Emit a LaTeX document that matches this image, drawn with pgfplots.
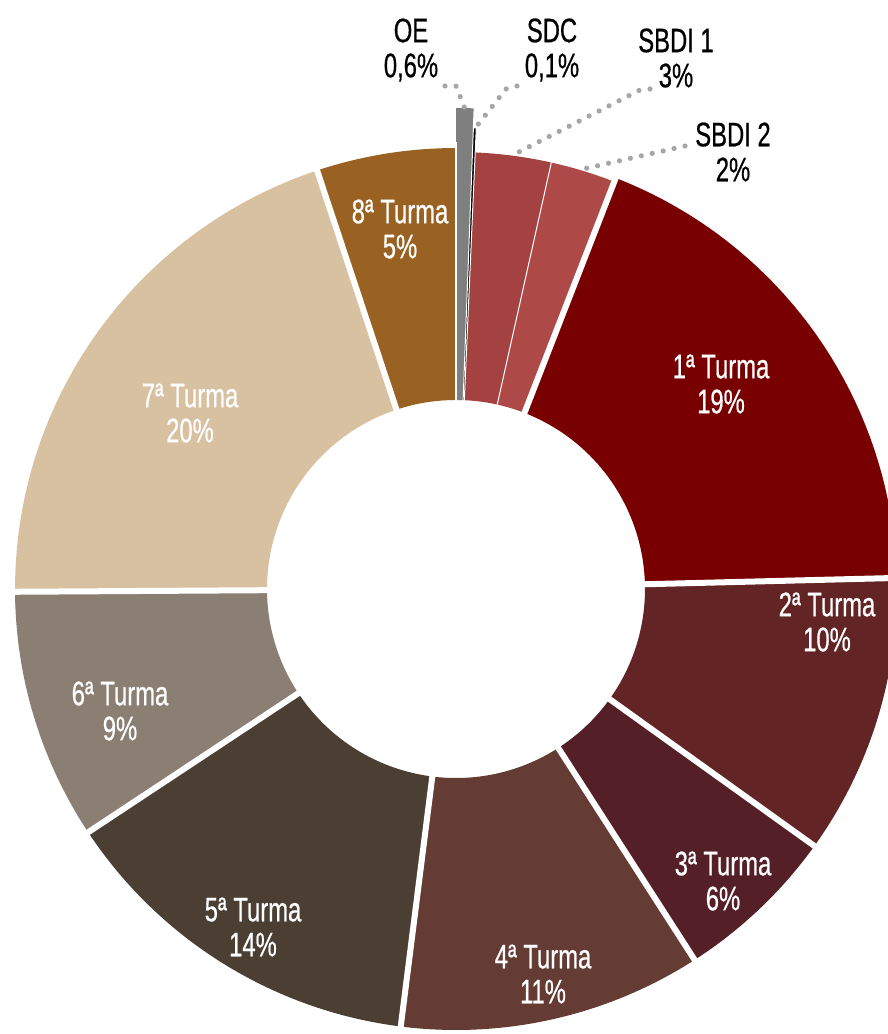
\documentclass[border=0pt]{standalone}
\usepackage{fontspec}
\setmainfont{Liberation Sans}[FakeStretch=0.70, FakeBold=0.6]
\usepackage{pgfplots}
\usepackage{pgfplotstable}
\pgfplotsset{compat=1.18}

\definecolor{slice0}{HTML}{7F7F7F}
\definecolor{slice1}{HTML}{000000}
\definecolor{slice2}{HTML}{A34240}
\definecolor{slice3}{HTML}{AD4A47}
\definecolor{slice4}{HTML}{780000}
\definecolor{slice5}{HTML}{622424}
\definecolor{slice6}{HTML}{541F27}
\definecolor{slice7}{HTML}{643C34}
\definecolor{slice8}{HTML}{4B3F33}
\definecolor{slice9}{HTML}{8B7F73}
\definecolor{slice10}{HTML}{D8C1A0}
\definecolor{slice11}{HTML}{9A6222}
\definecolor{leader}{HTML}{A6A6A6}

% slices clockwise from the top: OE, SDC, SBDI 1, SBDI 2, 1a ... 8a Turma
\pgfplotstableread{
idx value R gap
0 0.6 481 0.5
1 0.1 461 0.5
2 2.8 437 0.5
3 2.4 437 3
4 18.7 441 3
5 10.3 441 3
6 6.0 441 3
7 11.1 441 3
8 13.7 441 3
9 9.2 441 3
10 20.0 441 3
11 5.1 441 1.2
}\slices

\def\cum{0}
\pgfplotsforeachungrouped \i in {0,1,...,11}{%
  \pgfplotstablegetelem{\i}{value}\of\slices
  \pgfmathsetmacro\tmpa{3.6*\cum}%
  \pgfmathsetmacro\cum{\cum+\pgfplotsretval}%
  \pgfmathsetmacro\tmpb{3.6*\cum}%
  \expandafter\global\expandafter\let\csname sa\i\endcsname\tmpa
  \expandafter\global\expandafter\let\csname sb\i\endcsname\tmpb
  \pgfplotstablegetelem{\i}{R}\of\slices
  \expandafter\global\expandafter\let\csname sR\i\endcsname\pgfplotsretval
  \pgfplotstablegetelem{\i}{gap}\of\slices
  \expandafter\global\expandafter\let\csname sg\i\endcsname\pgfplotsretval
}

\newcommand\cx{456}
\newcommand\cy{589}
\newcommand\rin{189}
\newcommand\Ang[1]{(x<50 ? \csname sa#1\endcsname+(\csname sb#1\endcsname-\csname sa#1\endcsname)*x/40 : \csname sb#1\endcsname-(\csname sb#1\endcsname-\csname sa#1\endcsname)*(x-100)/40)}
\newcommand\Rad[1]{(x<50 ? \csname sR#1\endcsname : \rin)}
\newcommand\lbl{\fontsize{17}{17.5}\selectfont}

\begin{document}
\begin{tikzpicture}
\begin{axis}[
  scale only axis, width=444pt, height=517pt,
  xmin=0, xmax=888, ymin=0, ymax=1034, y dir=reverse,
  hide axis, clip=true,
]
\pgfplotsinvokeforeach{0,...,11}{%
  \addplot[fill=slice#1, draw=none, samples at={0,1,...,40,100,101,...,140}]
   ({\cx+\Rad{#1}*sin(\Ang{#1})},{\cy-\Rad{#1}*cos(\Ang{#1})});
}
\pgfplotsinvokeforeach{0,...,11}{%
  \addplot[draw=white, line width=\csname sg#1\endcsname pt, samples at={0,1}]
   ({\cx+(175+x*(\csname sR#1\endcsname+6-175))*sin(\csname sb#1\endcsname)},
    {\cy-(175+x*(\csname sR#1\endcsname+6-175))*cos(\csname sb#1\endcsname)});
}
% leader lines
\addplot[leader, line width=2.6pt, line cap=round, dash pattern=on 0pt off 5.6pt]
  coordinates {(445,86) (456,86) (465,109)};
\addplot[leader, line width=2.6pt, line cap=round, dash pattern=on 0pt off 5.6pt]
  coordinates {(517,86) (506,89) (476,127)};
\addplot[leader, line width=2.6pt, line cap=round, dash pattern=on 0pt off 5.6pt]
  coordinates {(650,89) (640,90) (513,155)};
\addplot[leader, line width=2.6pt, line cap=round, dash pattern=on 0pt off 5.6pt]
  coordinates {(685,146) (583,169)};
% outer labels
\node[font=\lbl, align=center] at (axis cs:411,50) {OE\\0,6\%};
\node[font=\lbl, align=center] at (axis cs:552,50) {SDC\\0,1\%};
\node[font=\lbl, align=center] at (axis cs:676,58) {SBDI 1\\3\%};
\node[font=\lbl, align=center] at (axis cs:733,152) {SBDI 2\\2\%};
% inner labels
\node[font=\lbl, align=center, text=white] at (axis cs:721,384) {1ª Turma\\19\%};
\node[font=\lbl, align=center, text=white] at (axis cs:827,622) {2ª Turma\\10\%};
\node[font=\lbl, align=center, text=white] at (axis cs:723,881) {3ª Turma\\6\%};
\node[font=\lbl, align=center, text=white] at (axis cs:543,974) {4ª Turma\\11\%};
\node[font=\lbl, align=center, text=white] at (axis cs:253,927) {5ª Turma\\14\%};
\node[font=\lbl, align=center, text=white] at (axis cs:120,711) {6ª Turma\\9\%};
\node[font=\lbl, align=center, text=white] at (axis cs:190,413) {7ª Turma\\20\%};
\node[font=\lbl, align=center, text=white] at (axis cs:400,229) {8ª Turma\\5\%};
\end{axis}
\pgfresetboundingbox
\path[use as bounding box] (current axis.south west) rectangle (current axis.north east);
\end{tikzpicture}
\end{document}
